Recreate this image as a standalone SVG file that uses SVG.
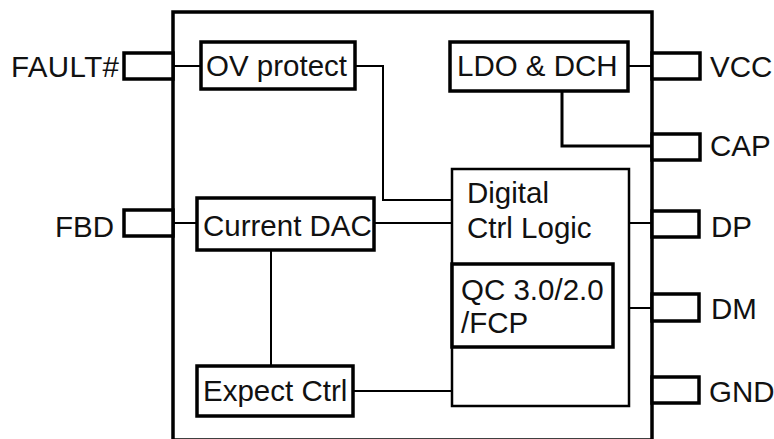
<svg xmlns="http://www.w3.org/2000/svg" width="774" height="439" viewBox="0 0 774 439">
<style>
text{font-family:"Liberation Sans",Arial,sans-serif;font-size:29.5px;fill:#111}
.chip{fill:none;stroke:#000;stroke-width:3.5}
.pin{fill:#fff;stroke:#000;stroke-width:3.5}
.blk{fill:#fff;stroke:#000;stroke-width:3.5}
.blk2{fill:#fff;stroke:#000;stroke-width:2.5}
.w{fill:none;stroke:#000;stroke-width:2}
.wt{fill:none;stroke:#000;stroke-width:3}
</style>
<rect width="774" height="439" fill="#fff"/>
<rect id="chip" class="chip" x="173" y="12" width="479" height="428"/>
<g id="connectors">
<line class="w" x1="173" y1="66" x2="200" y2="66"/>
<polyline class="w" points="355,66 383,66 383,200 452,200"/>
<line class="w" x1="628" y1="66" x2="652" y2="66"/>
<polyline class="wt" points="562,91 562,146 652,146"/>
<line class="w" x1="173" y1="223" x2="197" y2="223"/>
<line class="w" x1="375" y1="223" x2="452" y2="223"/>
<line class="w" x1="629" y1="223" x2="652" y2="223"/>
<line class="w" x1="629" y1="308" x2="652" y2="308"/>
<line class="w" x1="271" y1="250" x2="271" y2="366"/>
<line class="w" x1="353" y1="391" x2="452" y2="391"/>
</g>
<g id="pin-fault"><rect class="pin" x="124" y="53" width="49" height="26"/><text x="119" y="77" text-anchor="end" textLength="108">FAULT#</text></g>
<g id="pin-fbd"><rect class="pin" x="124" y="210" width="49" height="26"/><text x="114" y="237" text-anchor="end">FBD</text></g>
<g id="pin-vcc"><rect class="pin" x="652" y="53" width="48" height="26"/><text x="710" y="77">VCC</text></g>
<g id="pin-cap"><rect class="pin" x="652" y="134" width="48" height="26"/><text x="710" y="156">CAP</text></g>
<g id="pin-dp"><rect class="pin" x="652" y="211" width="47" height="26"/><text x="711" y="237">DP</text></g>
<g id="pin-dm"><rect class="pin" x="652" y="294" width="47" height="27"/><text x="711" y="319">DM</text></g>
<g id="pin-gnd"><rect class="pin" x="652" y="377" width="47" height="26"/><text x="709" y="402">GND</text></g>
<g id="ov"><rect class="blk" x="201" y="42" width="154" height="47"/><text x="206" y="76">OV protect</text></g>
<g id="ldo"><rect class="blk" x="450" y="42" width="178" height="49"/><text x="457" y="76">LDO &amp; DCH</text></g>
<g id="dac"><rect class="blk" x="197" y="198" width="177" height="52"/><text x="203" y="236">Current DAC</text></g>
<g id="expect"><rect class="blk" x="197" y="366" width="156" height="50"/><text x="203" y="401">Expect Ctrl</text></g>
<g id="digital"><rect class="blk2" x="452" y="169" width="177" height="237"/><text x="467" y="203">Digital</text><text x="467" y="238">Ctrl Logic</text></g>
<g id="qc"><rect class="blk" x="452" y="264" width="161" height="83"/><text x="461" y="300">QC 3.0/2.0</text><text x="461" y="333">/FCP</text></g>
</svg>
